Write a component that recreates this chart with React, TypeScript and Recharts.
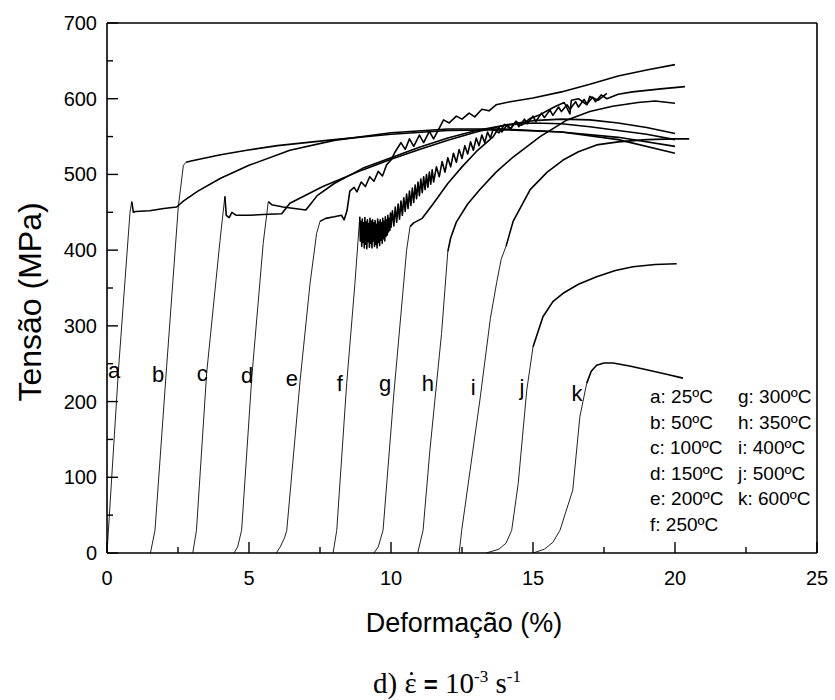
import { ComposedChart, Line, Scatter, XAxis, YAxis, ReferenceLine } from 'recharts';

// curves a..k: elastic rise (thin) and plastic flow (thick), [strain %, stress MPa]
const aRise = [[0, 0], [0.4, 240], [0.81, 450], [0.87, 464]];
const aFlow = [[0.87, 464], [0.93, 450], [1.0, 451], [1.5, 452], [2.0, 455], [2.45, 457], [2.7, 465], [3.2, 478], [4, 495], [5, 512], [6.44, 532], [8, 545], [10, 555], [12, 560], [14, 560], [16, 556], [18, 546], [20, 528]];
const bRise = [[1.53, 0], [1.69, 30], [2.1, 246], [2.51, 457], [2.69, 512], [2.78, 516]];
const bFlow = [[2.78, 516], [3.0, 518], [4.0, 526], [4.92, 532], [6, 538], [8, 546], [10, 553], [12, 558], [14, 559], [16, 556], [18, 549], [20, 537]];
const cRise = [[3.02, 0], [3.15, 30], [3.51, 238], [3.98, 413], [4.15, 471]];
const cFlow = [[4.15, 471], [4.2, 446], [4.3, 443], [4.4, 450], [4.55, 446], [5, 446], [5.5, 447], [6.15, 448], [6.44, 462], [7.6, 484], [9, 506], [10, 520], [11, 533], [12, 545], [13, 556], [14, 565], [15, 571], [16, 573], [17, 572], [18, 568], [19, 562], [20, 554]];
const dRise = [[4.47, 0], [4.6, 8], [4.74, 30], [5.1, 233], [5.5, 409], [5.68, 464]];
const dFlow = [[5.68, 464], [5.8, 460], [6.2, 457], [7.0, 453], [7.15, 460], [7.4, 472], [8, 488], [9, 508], [10, 522], [11, 536], [12, 548], [13, 558], [14, 565], [15, 568], [16, 567], [17, 563], [18, 558], [19, 553], [20, 546]];
const eRise = [[5.96, 0], [6.1, 8], [6.25, 20], [6.33, 30], [6.8, 228], [7.15, 356], [7.38, 422], [7.5, 438]];
const eFlow = [[7.5, 438], [7.7, 442], [8.0, 444], [8.26, 446], [8.35, 440], [8.45, 452], [8.55, 478], [8.7, 483], [8.8, 477], [8.95, 490], [9.1, 484], [9.25, 497], [9.4, 491], [9.55, 504], [9.7, 498], [9.85, 513], [10.0, 519], [10.15, 530], [10.35, 542], [10.5, 533], [10.65, 547], [10.8, 537], [11.0, 552], [11.15, 542], [11.35, 557], [11.5, 547], [11.7, 561], [11.85, 572], [12.05, 568], [12.3, 577], [12.5, 573], [12.75, 581], [12.95, 576], [13.2, 586], [13.45, 584], [13.7, 592], [14.2, 596], [15, 601], [16, 609], [17, 619], [18, 630], [19, 638], [20, 645]];
const fRise = [[7.96, 0], [8.09, 30], [8.44, 224], [8.73, 356], [8.9, 444]];
const fFlow = [[8.9, 444], [8.92, 412], [8.945, 438], [8.97, 405], [8.99, 441], [9.01, 410], [9.035, 436], [9.06, 403], [9.08, 443], [9.1, 408], [9.125, 437], [9.15, 402], [9.17, 440], [9.19, 411], [9.215, 435], [9.24, 404], [9.26, 442], [9.28, 409], [9.305, 438], [9.33, 403], [9.35, 440], [9.37, 412], [9.395, 436], [9.42, 405], [9.44, 439], [9.46, 408], [9.485, 434], [9.51, 403], [9.53, 441], [9.55, 410], [9.575, 437], [9.6, 406], [9.62, 440], [9.64, 413], [9.665, 436], [9.69, 409], [9.71, 442], [9.73, 415], [9.755, 438], [9.78, 412], [9.8, 444], [9.82, 418], [9.845, 440], [9.87, 420], [9.89, 446], [9.91, 424], [9.935, 442], [9.96, 426], [9.98, 449], [10.0, 430], [10.05, 452], [10.1, 432], [10.15, 457], [10.2, 437], [10.25, 461], [10.3, 441], [10.35, 465], [10.4, 446], [10.45, 469], [10.5, 451], [10.55, 474], [10.6, 455], [10.65, 478], [10.7, 459], [10.75, 482], [10.8, 463], [10.85, 486], [10.9, 468], [10.95, 490], [11.0, 472], [11.05, 494], [11.1, 476], [11.15, 497], [11.2, 480], [11.25, 500], [11.3, 483], [11.35, 503], [11.4, 487], [11.45, 506], [11.5, 490], [11.6, 510], [11.7, 497], [11.8, 517], [11.9, 503], [12.0, 522], [12.1, 510], [12.2, 528], [12.3, 516], [12.4, 533], [12.5, 521], [12.6, 538], [12.7, 527], [12.8, 543], [12.9, 532], [13.0, 548], [13.1, 538], [13.2, 552], [13.3, 542], [13.4, 556], [13.5, 548], [13.6, 560], [13.8, 555], [14.0, 566], [14.2, 560], [14.4, 570], [14.6, 565], [14.9, 574], [15.2, 578], [15.5, 584], [15.8, 590], [16.1, 595], [16.3, 580], [16.35, 598], [16.6, 600], [16.9, 592], [17.0, 603], [17.3, 598], [17.6, 607]];
const gRise = [[9.4, 0], [9.55, 8], [9.72, 30], [10.1, 210], [10.55, 400], [10.67, 431]];
const gFlow = [[10.67, 431], [10.8, 436], [11.1, 442], [11.5, 462], [12, 488], [12.5, 510], [13, 530], [13.6, 550], [13.8, 562], [13.9, 556], [14.1, 566], [14.2, 560], [14.4, 570], [14.5, 563], [14.7, 573], [14.8, 567], [15.0, 577], [15.1, 570], [15.3, 581], [15.4, 575], [15.6, 585], [15.7, 578], [15.9, 589], [16.0, 583], [16.2, 592], [16.3, 586], [16.5, 596], [16.6, 589], [16.8, 599], [16.9, 593], [17.1, 602], [17.2, 596], [17.4, 605], [17.6, 600], [18, 606], [18.5, 609], [19.5, 613], [20.35, 616]];
const hRise = [[10.94, 0], [11.13, 30], [11.37, 136], [11.78, 290], [12.0, 398]];
const hFlow = [[12.0, 398], [12.1, 416], [12.3, 437], [12.7, 461], [13.13, 480], [13.7, 503], [14.3, 523], [15.25, 550], [16.2, 572], [17, 583], [17.8, 590], [18.7, 595], [19.3, 597], [20, 594]];
const iRise = [[12.4, 0], [12.49, 30], [13.13, 202], [13.5, 310], [13.72, 357], [13.88, 388], [14.05, 405]];
const iFlow = [[14.05, 405], [14.3, 438], [14.9, 480], [15.5, 503], [16.06, 519], [16.6, 530], [17.24, 539], [18, 543], [19, 546], [20, 547], [20.5, 547]];
const jRise = [[13.35, 0], [13.8, 5], [14.05, 13], [14.25, 30], [14.48, 92], [14.78, 215], [15.0, 272]];
const jFlow = [[15.0, 272], [15.35, 312], [15.7, 332], [16.06, 343], [16.6, 355], [17.24, 365], [17.9, 373], [18.52, 378], [19.3, 381], [20.06, 382]];
const kRise = [[15.0, 0], [15.4, 5], [15.7, 14], [15.95, 30], [16.4, 83], [16.65, 180], [16.89, 224]];
const kFlow = [[16.89, 224], [17.05, 240], [17.24, 248], [17.5, 251], [17.82, 251], [18.4, 247], [19.0, 242], [19.7, 236], [20.28, 231]];

const RISES = [aRise, bRise, cRise, dRise, eRise, fRise, gRise, hRise, iRise, jRise, kRise];
const FLOWS = [aFlow, bFlow, cFlow, dFlow, eFlow, fFlow, gFlow, hFlow, iFlow, jFlow, kFlow];

// curve letters next to each elastic line
const LETTER_TEXT = ['a', 'b', 'c', 'd', 'e', 'f', 'g', 'h', 'i', 'j', 'k'];
const LETTER_X = [0.25, 1.8, 3.35, 4.93, 6.51, 8.2, 9.79, 11.3, 12.89, 14.61, 16.55];
const LETTER_Y = [242, 236, 238, 235, 231, 225, 225, 225, 219, 219, 211];

const LEGEND_LEFT = ['a: 25ºC', 'b: 50ºC', 'c: 100ºC', 'd: 150ºC', 'e: 200ºC', 'f: 250ºC'];
const LEGEND_RIGHT = ['g: 300ºC', 'h: 350ºC', 'i: 400ºC', 'j: 500ºC', 'k: 600ºC'];

const X_TICKS = [0, 2.5, 5, 7.5, 10, 12.5, 15, 17.5, 20, 22.5, 25];
const Y_TICKS = [0, 50, 100, 150, 200, 250, 300, 350, 400, 450, 500, 550, 600, 650, 700];

const SANS = '"Liberation Sans", Arial, sans-serif';
const SERIF = '"Liberation Serif", "Times New Roman", serif';
const LEFT = 107;
const BOTTOM = 553;

const toPts = (arr: number[][]) => arr.map(([x, y]) => ({ x, y }));

function XTick(props: any) {
  const { x, payload } = props;
  const v = payload.value;
  const major = v % 5 === 0;
  return (
    <g>
      <line x1={x} x2={x} y1={BOTTOM} y2={BOTTOM - (major ? 11 : 6)} stroke="#000" strokeWidth={1.4} />
      {major && (
        <text x={x} y={BOTTOM + 32} textAnchor="middle" fontSize={20} fontFamily={SANS} fill="#000">
          {v}
        </text>
      )}
    </g>
  );
}

function YTick(props: any) {
  const { y, payload } = props;
  const v = payload.value;
  const major = v % 100 === 0;
  return (
    <g>
      <line x1={LEFT} x2={LEFT + (major ? 11 : 6)} y1={y} y2={y} stroke="#000" strokeWidth={1.4} />
      {major && (
        <text x={97} y={y + 7} textAnchor="end" fontSize={20} fontFamily={SANS} fill="#000">
          {v}
        </text>
      )}
    </g>
  );
}

function LetterShape(props: any) {
  const { cx, cy, payload } = props;
  return (
    <text x={cx} y={cy + 8} textAnchor="middle" fontSize={22} fontFamily={SANS} fill="#000">
      {payload.t}
    </text>
  );
}

export default function App() {
  const letters = LETTER_TEXT.map((t, i) => ({ x: LETTER_X[i], y: LETTER_Y[i], t }));
  const abs = (left: number, top: number): React.CSSProperties => ({
    position: 'absolute',
    left,
    top,
    whiteSpace: 'nowrap',
  });

  return (
    <div style={{ position: 'absolute', left: 0, top: 0, width: 835, height: 700, background: '#fff', color: '#000' }}>
      <ComposedChart
        width={835}
        height={700}
        margin={{ top: 23, right: 18, left: 0, bottom: 0 }}
      >
        <XAxis
          type="number"
          dataKey="x"
          domain={[0, 25]}
          ticks={X_TICKS}
          interval={0}
          tick={XTick}
          tickLine={false}
          height={147}
          axisLine={{ stroke: '#000', strokeWidth: 1.6 }}
          allowDataOverflow
        />
        <YAxis
          type="number"
          dataKey="y"
          domain={[0, 700]}
          ticks={Y_TICKS}
          interval={0}
          tick={YTick}
          tickLine={false}
          width={107}
          axisLine={{ stroke: '#000', strokeWidth: 1.6 }}
          allowDataOverflow
        />
        <ReferenceLine y={700} stroke="#000" strokeWidth={1.6} />
        <ReferenceLine x={25} stroke="#000" strokeWidth={1.6} />
        {RISES.map((r, i) => (
          <Line
            key={'r' + i}
            data={toPts(r)}
            dataKey="y"
            type="linear"
            stroke="#222"
            strokeWidth={1}
            dot={false}
            activeDot={false}
            isAnimationActive={false}
          />
        ))}
        {FLOWS.map((f, i) => (
          <Line
            key={'f' + i}
            data={toPts(f)}
            dataKey="y"
            type="linear"
            stroke="#000"
            strokeWidth={1.6}
            strokeLinejoin="round"
            dot={false}
            activeDot={false}
            isAnimationActive={false}
          />
        ))}
        <Scatter data={letters} dataKey="y" shape={LetterShape} isAnimationActive={false} />
      </ComposedChart>

      {/* axis titles */}
      <div
        style={{
          ...abs(30 - 150, 302 - 19),
          width: 300,
          height: 38,
          lineHeight: '38px',
          textAlign: 'center',
          transform: 'rotate(-90deg)',
          fontFamily: SANS,
          fontSize: 32,
        }}
      >
        Tensão (MPa)
      </div>
      <div style={{ ...abs(464 - 150, 623 - 17), width: 300, height: 34, lineHeight: '34px', textAlign: 'center', fontFamily: SANS, fontSize: 27 }}>
        Deformação (%)
      </div>
      <div style={{ ...abs(447 - 150, 677 - 18), width: 300, height: 36, lineHeight: '36px', textAlign: 'center', fontFamily: SERIF, fontSize: 29 }}>
        d){' '}
        <span style={{ position: 'relative', display: 'inline-block' }}>
          ε
          <span
            style={{
              position: 'absolute',
              left: '50%',
              top: 7,
              width: 3,
              height: 3,
              marginLeft: -1,
              borderRadius: '50%',
              background: '#000',
            }}
          />
        </span>{' '}
        <span style={{ fontFamily: SANS, fontWeight: 'bold', fontSize: 24 }}>=</span> 10
        <span style={{ fontSize: 17, verticalAlign: 'super' }}>-3</span> s
        <span style={{ fontSize: 17, verticalAlign: 'super' }}>-1</span>
      </div>

      {/* legend */}
      {LEGEND_LEFT.map((s, i) => (
        <div key={s} style={{ ...abs(650, 397 + i * 25.5 - 11), height: 22, lineHeight: '22px', fontFamily: SANS, fontSize: 19 }}>
          {s}
        </div>
      ))}
      {LEGEND_RIGHT.map((s, i) => (
        <div key={s} style={{ ...abs(738, 397 + i * 25.5 - 11), height: 22, lineHeight: '22px', fontFamily: SANS, fontSize: 19 }}>
          {s}
        </div>
      ))}
    </div>
  );
}
